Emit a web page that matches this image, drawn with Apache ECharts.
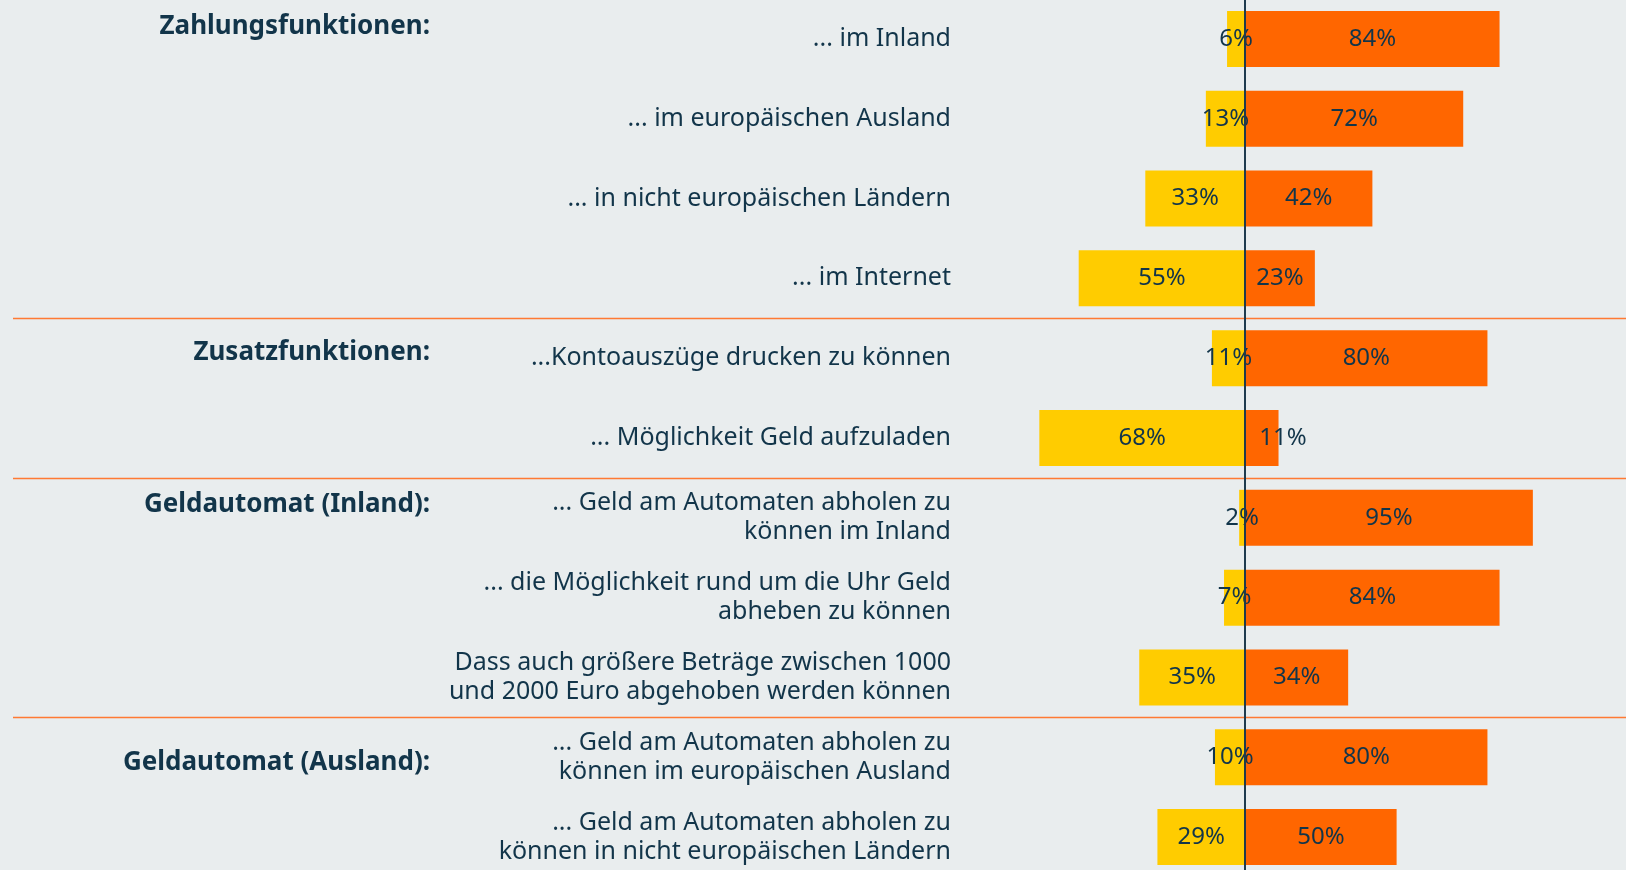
<!DOCTYPE html>
<html>
<head>
<meta charset="utf-8">
<script src="https://cdn.jsdelivr.net/npm/echarts@6/dist/echarts.min.js"></script>
<style>
  html, body { margin: 0; padding: 0; background: #e9edee; }
  #chart { width: 1626px; height: 870px; }
</style>
</head>
<body>
<div id="chart"></div>
<script>
// Kategorien (von oben nach unten)
const categories = [
  '... im Inland',
  '... im europäischen Ausland',
  '... in nicht europäischen Ländern',
  '... im Internet',
  '...Kontoauszüge drucken zu können',
  '... Möglichkeit Geld aufzuladen',
  '... Geld am Automaten abholen zu\nkönnen im Inland',
  '... die Möglichkeit rund um die Uhr Geld\nabheben zu können',
  'Dass auch größere Beträge zwischen 1000\nund 2000 Euro abgehoben werden können',
  '... Geld am Automaten abholen zu\nkönnen im europäischen Ausland',
  '... Geld am Automaten abholen zu\nkönnen in nicht europäischen Ländern'
];
// gelb, nach links
const leftValues = [6, 13, 33, 55, 11, 68, 2, 7, 35, 10, 29];
// orange, nach rechts
const rightValues = [84, 72, 42, 23, 80, 11, 95, 84, 34, 80, 50];
// Gruppen-Überschriften und die Zeile, nach der eine Trennlinie kommt
const groupTitles = ['Zahlungsfunktionen:', 'Zusatzfunktionen:', 'Geldautomat (Inland):', 'Geldautomat (Ausland):'];
const groupEnds = [3, 5, 8];

const textColor = '#12354a';
const chart = echarts.init(document.getElementById('chart'));

const labelStyle = {
  show: true,
  position: 'inside',
  color: textColor,
  fontFamily: 'Noto Sans',
  fontSize: 24,
  formatter: p => Math.abs(p.value) + '%'
};

const option = {
  backgroundColor: '#e9edee',
  animation: false,
  grid: { left: 1003, width: 545, top: -1, bottom: -7, containLabel: false, outerBoundsMode: 'none' },
  xAxis: {
    type: 'value',
    min: -80,
    max: 100,
    show: false
  },
  yAxis: {
    type: 'category',
    inverse: true,
    data: categories,
    axisLine: { show: false },
    axisTick: { show: false },
    splitLine: { show: false },
    axisLabel: {
      margin: 52,
      color: textColor,
      fontFamily: 'Noto Sans',
      fontSize: 25,
      lineHeight: 29,
      align: 'right'
    }
  },
  series: [
    {
      name: 'nein',
      type: 'bar',
      stack: 'total',
      barWidth: 56,
      itemStyle: { color: '#ffcc00' },
      label: labelStyle,
      data: leftValues.map(v => -v)
    },
    {
      name: 'ja',
      type: 'bar',
      stack: 'total',
      barWidth: 56,
      itemStyle: { color: '#ff6600' },
      label: labelStyle,
      // sehr kurze Balken: Beschriftung rechts neben die Nulllinie schieben
      data: rightValues.map(v => v < 15
        ? { value: v, label: { position: 'insideLeft', distance: 14 } }
        : v),
      markLine: {
        silent: true,
        symbol: 'none',
        label: { show: false },
        lineStyle: { color: '#1f3b4d', width: 2, type: 'solid' },
        data: [{ xAxis: 0 }],
        z: 5
      }
    }
  ]
};
chart.setOption(option);

// Trennlinien zwischen den Gruppen + Überschriften
const graphics = [];
groupEnds.forEach(i => {
  const y1 = chart.convertToPixel({ yAxisIndex: 0 }, categories[i]);
  const y2 = chart.convertToPixel({ yAxisIndex: 0 }, categories[i + 1]);
  const y = Math.round((y1 + y2) / 2) + 0.5;
  graphics.push({
    type: 'line',
    shape: { x1: 13, y1: y, x2: 1626, y2: y },
    style: { stroke: '#ff7a33', lineWidth: 1.5 },
    z: 1
  });
});
const titleY = [27, 353, 505, 763];
groupTitles.forEach((t, k) => {
  graphics.push({
    type: 'text',
    x: 430,
    y: titleY[k],
    style: {
      text: t,
      fill: textColor,
      font: 'bold 26px "Noto Sans"',
      textAlign: 'right',
      textVerticalAlign: 'middle'
    }
  });
});
chart.setOption({ graphic: graphics });
</script>
</body>
</html>
